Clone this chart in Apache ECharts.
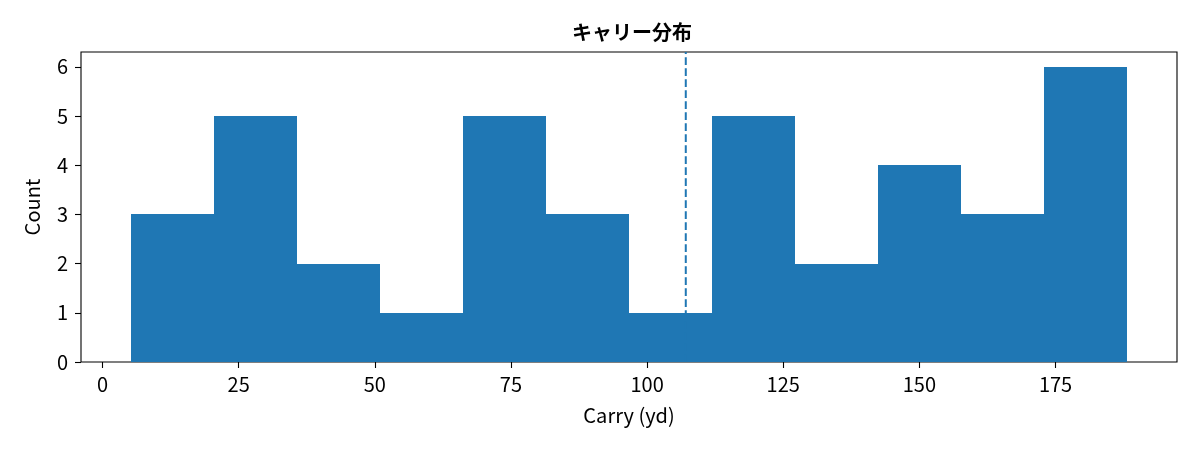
<!DOCTYPE html>
<html><head><meta charset="utf-8">
<script src="https://cdn.jsdelivr.net/npm/echarts@6/dist/echarts.min.js"></script>
<style>html,body{margin:0;padding:0;background:#fff}#c{width:1200px;height:450px}</style>
</head><body><div id="c"></div>
<script>
const binEdges = [5.2, 20.45, 35.7, 50.95, 66.2, 81.45, 96.7, 111.95, 127.2, 142.45, 157.7, 172.95, 188.2];
const counts = [3, 5, 2, 1, 5, 3, 1, 5, 2, 4, 3, 6];
const meanCarry = 107.1;
const xTicks = [0, 25, 50, 75, 100, 125, 150, 175];
const yTicks = [0, 1, 2, 3, 4, 5, 6];
const titleText = 'キャリー分布';
const xName = 'Carry (yd)';
const yName = 'Count';

const barData = counts.map((c, i) => [binEdges[i], binEdges[i + 1], c]);
const FONT = '"Noto Sans CJK JP", "Noto Sans", sans-serif';
const chart = echarts.init(document.getElementById('c'), null, {renderer: 'canvas'});
chart.setOption({
  animation: false,
  title: {text: titleText, left: 627, top: 17, textAlign: 'center',
    textStyle: {fontFamily: FONT, fontSize: 20, fontWeight: 'bold', color: '#000'}},
  grid: {left: 81, right: 23, top: 52, bottom: 88, show: true, borderColor: '#000', borderWidth: 1.1, backgroundColor: 'transparent'},
  xAxis: {type: 'value', min: -3.95, max: 197.3,
    name: xName, nameLocation: 'middle', nameGap: 43,
    nameTextStyle: {fontFamily: FONT, fontSize: 20, color: '#000'},
    axisLine: {show: false, onZero: false}, splitLine: {show: false},
    axisTick: {show: true, length: 6, customValues: xTicks, lineStyle: {color: '#000', width: 1.1}},
    axisLabel: {customValues: xTicks, margin: 12, fontFamily: FONT, fontSize: 20, color: '#000'}},
  yAxis: {type: 'value', min: 0, max: 6.3,
    name: yName, nameLocation: 'middle', nameGap: 39,
    nameTextStyle: {fontFamily: FONT, fontSize: 20, color: '#000'},
    axisLine: {show: false, onZero: false}, splitLine: {show: false},
    axisTick: {show: true, length: 6, customValues: yTicks, lineStyle: {color: '#000', width: 1.1}},
    axisLabel: {customValues: yTicks, margin: 13, fontFamily: FONT, fontSize: 20, color: '#000'}},
  series: [
    {type: 'custom', data: barData, z: 2,
      renderItem: function (params, api) {
        const p0 = api.coord([api.value(0), 0]);
        const p1 = api.coord([api.value(1), api.value(2)]);
        const x0 = Math.round(p0[0]), x1 = Math.round(p1[0]);
        const y0 = Math.round(p0[1]), y1 = Math.round(p1[1]);
        return {type: 'rect', shape: {x: x0, y: y1, width: x1 - x0, height: y0 - y1},
          style: {fill: '#1f77b4'}};
      }},
    {type: 'line', data: [[meanCarry, 0], [meanCarry, 6.3]], symbol: 'none', z: 3,
      lineStyle: {color: '#1f77b4', width: 2, type: [7.7, 3.3]}}
  ]
});
</script></body></html>
